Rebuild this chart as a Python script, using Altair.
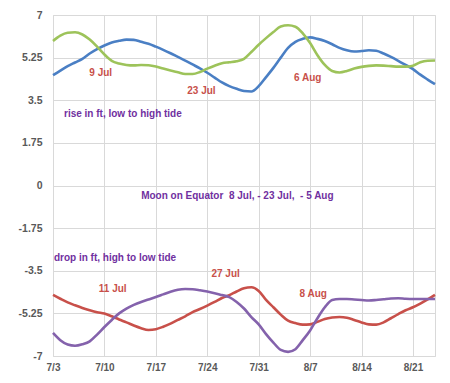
import altair as alt
import pandas as pd

start = "2023-07-03"
n_days = 53

rise_a = [4.53, 4.72, 4.90, 5.05, 5.20, 5.42, 5.60, 5.75, 5.87, 5.94, 5.99, 5.98, 5.90, 5.82,
          5.70, 5.57, 5.43, 5.28, 5.13, 4.97, 4.81, 4.63, 4.43, 4.23, 4.08, 3.97, 3.88, 3.86,
          4.08, 4.45, 4.83, 5.25, 5.65, 5.90, 6.02, 6.08, 6.02, 5.93, 5.80, 5.65, 5.55, 5.50,
          5.52, 5.55, 5.53, 5.42, 5.28, 5.12, 4.95, 4.78, 4.55, 4.35, 4.16]
rise_b = [5.93, 6.15, 6.27, 6.29, 6.20, 5.99, 5.70, 5.38, 5.12, 5.01, 4.95, 4.93, 4.95, 4.94,
          4.89, 4.80, 4.72, 4.65, 4.58, 4.58, 4.66, 4.80, 4.92, 5.02, 5.06, 5.10, 5.20, 5.48,
          5.78, 6.05, 6.30, 6.53, 6.58, 6.52, 6.25, 5.85, 5.35, 4.95, 4.70, 4.64, 4.70, 4.80,
          4.87, 4.91, 4.93, 4.92, 4.90, 4.88, 4.88, 4.92, 5.06, 5.12, 5.13]
drop_a = [-4.49, -4.65, -4.80, -4.92, -5.03, -5.12, -5.20, -5.26, -5.37, -5.50, -5.62, -5.75,
          -5.86, -5.93, -5.90, -5.80, -5.67, -5.52, -5.37, -5.20, -5.07, -4.93, -4.78, -4.62,
          -4.50, -4.35, -4.22, -4.18, -4.33, -4.70, -5.00, -5.30, -5.55, -5.65, -5.71, -5.70,
          -5.60, -5.48, -5.42, -5.40, -5.43, -5.52, -5.62, -5.70, -5.71, -5.62, -5.45, -5.28,
          -5.12, -5.00, -4.85, -4.68, -4.49]
drop_b = [-6.05, -6.35, -6.53, -6.58, -6.52, -6.40, -6.12, -5.81, -5.52, -5.25, -5.05, -4.90,
          -4.78, -4.68, -4.58, -4.47, -4.36, -4.28, -4.25, -4.26, -4.30, -4.35, -4.42, -4.50,
          -4.58, -4.78, -5.05, -5.40, -5.70, -6.10, -6.45, -6.75, -6.83, -6.72, -6.35, -5.95,
          -5.45, -5.00, -4.70, -4.66, -4.66, -4.68, -4.70, -4.72, -4.70, -4.67, -4.64, -4.63,
          -4.65, -4.66, -4.66, -4.66, -4.66]

series_names = ["rise_a", "rise_b", "drop_a", "drop_b"]
series_colors = ["#4A7FC4", "#9DC35A", "#C8504A", "#8462AC"]

x_ticks = ["2023-07-03", "2023-07-10", "2023-07-17", "2023-07-24", "2023-07-31",
           "2023-08-07", "2023-08-14", "2023-08-21"]
x_end = "2023-08-24"
y_ticks = [-7, -5.25, -3.5, -1.75, 0, 1.75, 3.5, 5.25, 7]

# annotations: text, datetime, value
ann_text = ["9 Jul", "23 Jul", "6 Aug", "11 Jul", "27 Jul", "8 Aug"]
ann_time = ["2023-07-09T12:00", "2023-07-23T05:00", "2023-08-06T16:00",
            "2023-07-11T03:00", "2023-07-26T12:00", "2023-08-07T10:00"]
ann_value = [4.63, 3.88, 4.43, -4.25, -3.65, -4.45]

note_text = ["rise in ft, low to high tide",
             "Moon on Equator\u00a0 8 Jul,\u00a0- 23 Jul,\u00a0 - 5 Aug",
             "drop in ft, high to low tide"]
note_time = ["2023-07-04T12:00", "2023-07-15T00:00", "2023-07-03T03:00"]
note_value = [2.95, -0.45, -2.96]


def ms(s):
    return int(pd.Timestamp(s, tz="UTC").value // 10**6)


dates = pd.date_range(start, periods=n_days, tz="UTC")
date_ms = [int(d.value // 10**6) for d in dates]

rows = []
for name, vals in zip(series_names, [rise_a, rise_b, drop_a, drop_b]):
    for t, v in zip(date_ms, vals):
        rows.append({"t": t, "v": v, "series": name})
df = pd.DataFrame(rows)

ann_df = pd.DataFrame({"t": [ms(s) for s in ann_time], "v": ann_value, "text": ann_text})
note_df = pd.DataFrame({"t": [ms(s) for s in note_time], "v": note_value, "text": note_text})

x_scale = alt.Scale(type="utc", domain=[ms(start), ms(x_end)], nice=False)
y_scale = alt.Scale(domain=[-7, 7], nice=False, zero=False)

x_axis = alt.Axis(values=[ms(s) for s in x_ticks], labelExpr="utcFormat(datum.value, '%-m/%-d')",
                  title=None, ticks=False, domain=False, grid=True, gridColor="#D9D9D9",
                  labelFont="Liberation Sans", labelFontWeight="bold", labelFontSize=10,
                  labelColor="#595959", labelPadding=6, labelFlush=False, labelOverlap=False)
y_axis = alt.Axis(values=y_ticks, labelExpr="'' + datum.value", title=None, ticks=False,
                  domain=False, grid=True, gridColor="#D9D9D9",
                  labelFont="Liberation Sans", labelFontWeight="bold", labelFontSize=10.5,
                  labelColor="#595959", labelPadding=11)

lines = alt.Chart(df).mark_line(interpolate="monotone", strokeWidth=2.6).encode(
    x=alt.X("t:T", scale=x_scale, axis=x_axis),
    y=alt.Y("v:Q", scale=y_scale, axis=y_axis),
    color=alt.Color("series:N", scale=alt.Scale(domain=series_names, range=series_colors),
                    legend=None),
    detail="series:N",
)

ann = alt.Chart(ann_df).mark_text(font="Liberation Sans", fontWeight="bold", fontSize=10,
                                  color="#C8504A", align="center", baseline="middle").encode(
    x=alt.X("t:T", scale=x_scale), y=alt.Y("v:Q", scale=y_scale), text="text:N")

notes = alt.Chart(note_df).mark_text(font="Liberation Sans", fontWeight="bold", fontSize=10,
                                    color="#7030A0", align="left", baseline="middle").encode(
    x=alt.X("t:T", scale=x_scale), y=alt.Y("v:Q", scale=y_scale), text="text:N")

chart = alt.layer(lines, ann, notes).properties(
    width=382, height=341,
    autosize=alt.AutoSizeParams(type="none"),
    padding={"left": 45, "top": 7, "right": 6, "bottom": 20},
    background="white",
).configure_view(stroke="#D9D9D9")

chart.save("out.html", embed_options={"renderer": "svg", "actions": False})
